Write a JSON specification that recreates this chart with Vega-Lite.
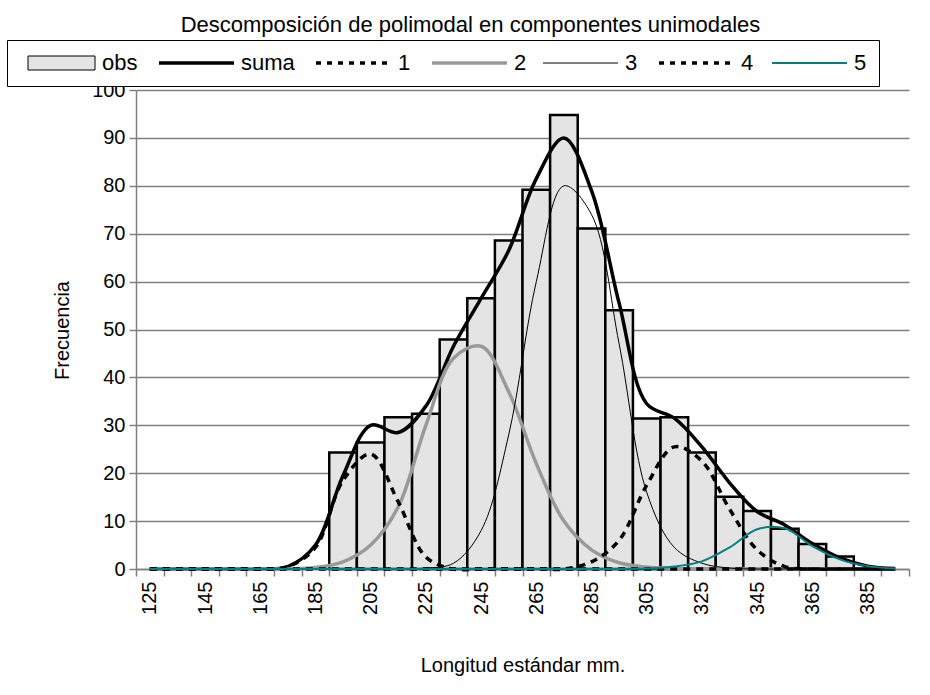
{
  "$schema": "https://vega.github.io/schema/vega-lite/v6.json",
  "autosize": {"type": "none"},
  "padding": {"left": 136, "top": 90, "right": 21, "bottom": 126},
  "width": 773,
  "height": 479,
  "background": "white",
  "title": {
    "text": "Descomposición de polimodal en componentes unimodales",
    "font": "Liberation Sans",
    "fontSize": 22,
    "fontWeight": "normal",
    "color": "black",
    "anchor": "middle",
    "frame": "group",
    "baseline": "bottom",
    "offset": -19,
    "dx": -52
  },
  "config": {
    "view": {"stroke": null},
    "axis": {
      "labelFont": "Liberation Sans",
      "titleFont": "Liberation Sans",
      "labelFontSize": 20,
      "titleFontSize": 20,
      "titleFontWeight": "normal",
      "labelColor": "black",
      "titleColor": "black",
      "domainColor": "#808080",
      "domainWidth": 1.5,
      "tickColor": "#808080",
      "tickWidth": 1.5,
      "tickSize": 7,
      "gridColor": "#808080",
      "gridWidth": 1.5,
      "gridOpacity": 1
    },
    "legend": {
      "orient": "none",
      "legendX": -129,
      "legendY": -50,
      "direction": "horizontal",
      "strokeColor": "black",
      "fillColor": "white",
      "padding": 12,
      "symbolType": "stroke",
      "symbolSize": 400,
      "symbolStrokeWidth": 3,
      "labelFont": "Liberation Sans",
      "labelFontSize": 22,
      "labelColor": "black",
      "labelOffset": 61,
      "columnPadding": 14,
      "titleFontSize": 0,
      "titlePadding": 0
    }
  },
  "data": {
    "values": [
      {"L": 125, "obs": null, "suma": 0, "1": 0, "2": 0, "3": 0, "4": 0, "5": 0},
      {"L": 135, "obs": null, "suma": 0, "1": 0, "2": 0, "3": 0, "4": 0, "5": 0},
      {"L": 145, "obs": null, "suma": 0, "1": 0, "2": 0, "3": 0, "4": 0, "5": 0},
      {"L": 155, "obs": null, "suma": 0, "1": 0, "2": 0, "3": 0, "4": 0, "5": 0},
      {"L": 165, "obs": null, "suma": 0, "1": 0, "2": 0, "3": 0, "4": 0, "5": 0},
      {"L": 175, "obs": null, "suma": 0.5, "1": 0.5, "2": 0, "3": 0, "4": 0, "5": 0},
      {"L": 185, "obs": null, "suma": 5, "1": 4.5, "2": 0.3, "3": 0, "4": 0, "5": 0},
      {"L": 195, "obs": 24.3, "suma": 19.5, "1": 18.5, "2": 1.5, "3": 0, "4": 0, "5": 0},
      {"L": 205, "obs": 26.4, "suma": 30, "1": 24, "2": 5, "3": 0, "4": 0, "5": 0},
      {"L": 215, "obs": 31.7, "suma": 28.5, "1": 14, "2": 13, "3": 0, "4": 0, "5": 0},
      {"L": 225, "obs": 32.4, "suma": 34, "1": 2.5, "2": 30, "3": 0.2, "4": 0, "5": 0},
      {"L": 235, "obs": 47.9, "suma": 46.5, "1": 0, "2": 44, "3": 1.2, "4": 0, "5": 0},
      {"L": 245, "obs": 56.5, "suma": 56.5, "1": 0, "2": 46.5, "3": 8, "4": 0, "5": 0},
      {"L": 255, "obs": 68.6, "suma": 66.5, "1": 0, "2": 37, "3": 28, "4": 0, "5": 0},
      {"L": 265, "obs": 79.2, "suma": 81.5, "1": 0, "2": 22, "3": 60, "4": 0, "5": 0},
      {"L": 275, "obs": 94.8, "suma": 90, "1": 0, "2": 10, "3": 80, "4": 0, "5": 0},
      {"L": 285, "obs": 71.1, "suma": 79, "1": 0, "2": 4, "3": 74, "4": 1.5, "5": 0},
      {"L": 295, "obs": 54, "suma": 55.5, "1": 0, "2": 1.3, "3": 47, "4": 6, "5": 0},
      {"L": 305, "obs": 31.4, "suma": 34.5, "1": 0, "2": 0.4, "3": 16, "4": 17.5, "5": 0.1},
      {"L": 315, "obs": 31.7, "suma": 31.5, "1": 0, "2": 0.1, "3": 4.5, "4": 25.5, "5": 0.5},
      {"L": 325, "obs": 24.3, "suma": 25.5, "1": 0, "2": 0, "3": 1.2, "4": 22.5, "5": 1.6},
      {"L": 335, "obs": 15.1, "suma": 18, "1": 0, "2": 0, "3": 0.2, "4": 12.5, "5": 4.5},
      {"L": 345, "obs": 12.1, "suma": 12, "1": 0, "2": 0, "3": 0, "4": 4, "5": 8.3},
      {"L": 355, "obs": 8.4, "suma": 9.2, "1": 0, "2": 0, "3": 0, "4": 0.5, "5": 8.5},
      {"L": 365, "obs": 5.2, "suma": 5.3, "1": 0, "2": 0, "3": 0, "4": 0, "5": 4.8},
      {"L": 375, "obs": 2.6, "suma": 2.3, "1": 0, "2": 0, "3": 0, "4": 0, "5": 2},
      {"L": 385, "obs": null, "suma": 0.6, "1": 0, "2": 0, "3": 0, "4": 0, "5": 0.6},
      {"L": 395, "obs": null, "suma": 0.1, "1": 0, "2": 0, "3": 0, "4": 0, "5": 0.1}
    ]
  },
  "encoding": {
    "x": {
      "field": "L",
      "type": "ordinal",
      "scale": {"paddingInner": 0, "paddingOuter": 0},
      "axis": {
        "title": "Longitud estándar mm.",
        "labelAngle": -90,
        "labelAlign": "right",
        "labelBaseline": "middle",
        "labelPadding": 5,
        "labelExpr": "(datum.value - 125) % 20 == 0 ? datum.label : ''",
        "tickBand": "extent",
        "titleY": 96,
        "titleBaseline": "middle"
      }
    }
  },
  "layer": [
    {
      "mark": {"type": "bar", "fill": "#e4e4e4", "stroke": "black", "strokeWidth": 2.5},
      "encoding": {
        "y": {
          "field": "obs",
          "type": "quantitative",
          "scale": {"domain": [0, 100], "nice": false},
          "axis": {
            "title": "Frecuencia",
            "values": [0, 10, 20, 30, 40, 50, 60, 70, 80, 90, 100],
            "grid": true,
            "labelPadding": 4,
            "titleX": -74,
            "titleY": 240,
            "titleAlign": "center",
            "titleBaseline": "middle",
            "titleAngle": -90
          }
        }
      }
    },
    {
      "transform": [{"fold": ["suma"], "as": ["serie", "v"]}],
      "mark": {"type": "line", "interpolate": "catmull-rom", "strokeWidth": 3.5},
      "encoding": {
        "y": {"field": "v", "type": "quantitative"},
        "color": {
          "field": "serie",
          "type": "nominal",
          "title": null,
          "scale": {
            "domain": ["obs", "suma", "1", "2", "3", "4", "5"],
            "range": ["black", "black", "black", "#999999", "black", "black", "#008080"]
          },
          "legend": {
            "title": null,
            "encode": {
              "symbols": {
                "update": {
                  "shape": {"signal": "datum.value === 'obs' ? 'M-0.2,-0.7H6.5V0.7H-0.2Z' : 'M-1,0H6.5'"},
                  "fill": {"signal": "datum.value === 'obs' ? '#e4e4e4' : 'transparent'"},
                  "strokeDash": {"signal": "(datum.value === '1' || datum.value === '4') ? [5, 6] : [1, 0]"},
                  "strokeWidth": {"signal": "datum.value === '3' ? 1 : (datum.value === 'obs' ? 1 : (datum.value === '5' ? 2 : 3.5))"},
                  "opacity": {"value": 1}
                }
              }
            }
          }
        }
      }
    },
    {
      "transform": [{"fold": ["2"], "as": ["serie", "v"]}],
      "mark": {"type": "line", "interpolate": "catmull-rom", "strokeWidth": 3.5},
      "encoding": {
        "y": {"field": "v", "type": "quantitative"},
        "color": {"field": "serie", "type": "nominal", "title": null}
      }
    },
    {
      "transform": [{"fold": ["3"], "as": ["serie", "v"]}],
      "mark": {"type": "line", "interpolate": "catmull-rom", "strokeWidth": 1},
      "encoding": {
        "y": {"field": "v", "type": "quantitative"},
        "color": {"field": "serie", "type": "nominal", "title": null}
      }
    },
    {
      "transform": [{"fold": ["1", "4"], "as": ["serie", "v"]}],
      "mark": {"type": "line", "interpolate": "catmull-rom", "strokeWidth": 3.5, "strokeDash": [7, 6], "strokeCap": "butt"},
      "encoding": {
        "y": {"field": "v", "type": "quantitative"},
        "color": {"field": "serie", "type": "nominal", "title": null}
      }
    },
    {
      "transform": [{"fold": ["5"], "as": ["serie", "v"]}],
      "mark": {"type": "line", "interpolate": "catmull-rom", "strokeWidth": 2},
      "encoding": {
        "y": {"field": "v", "type": "quantitative"},
        "color": {"field": "serie", "type": "nominal", "title": null}
      }
    }
  ]
}
